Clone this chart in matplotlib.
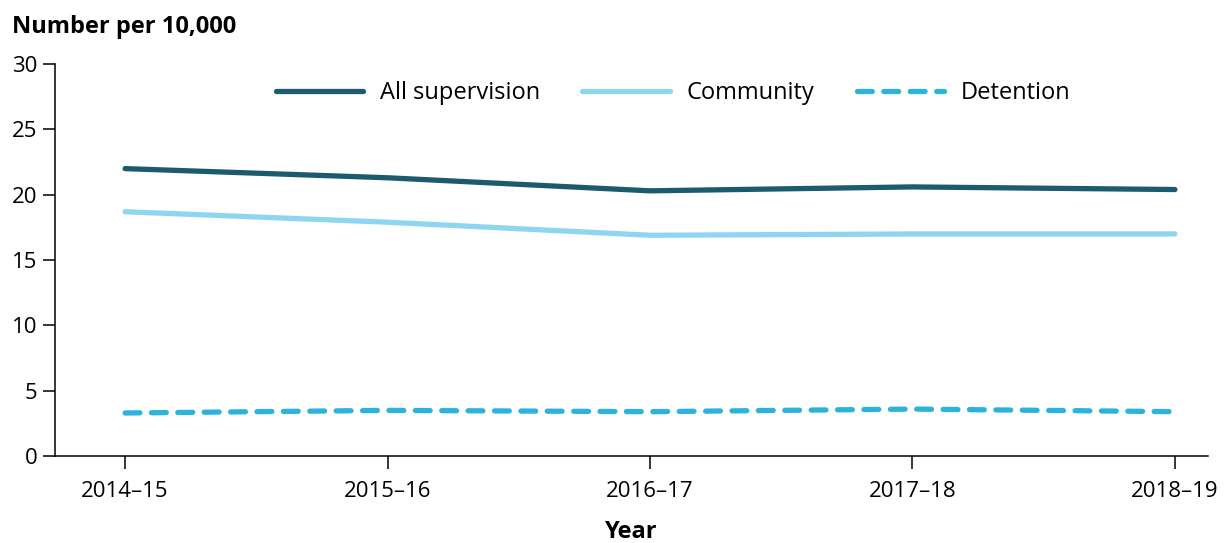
import matplotlib
matplotlib.use('Agg')
import matplotlib.pyplot as plt

years = ['2014–15', '2015–16', '2016–17', '2017–18', '2018–19']
all_supervision = [22.0, 21.3, 20.3, 20.6, 20.4]
community = [18.7, 17.9, 16.9, 17.0, 17.0]
detention = [3.3, 3.5, 3.4, 3.6, 3.4]

plt.rcParams['font.family'] = ['Open Sans', 'DejaVu Sans']
plt.rcParams['font.size'] = 16

fig = plt.figure(figsize=(12.28, 5.43), dpi=100)
ax = fig.add_axes([0.0448, 0.160, 0.9389, 0.722])

x = list(range(len(years)))
lw = 3.8
ax.plot(x, all_supervision, color='#1c5a6e', linewidth=lw, solid_capstyle='round',
        label='All supervision')
ax.plot(x, community, color='#8dd6f1', linewidth=lw, solid_capstyle='round',
        label='Community')
ax.plot(x, detention, color='#2bb3de', linewidth=lw, dashes=(2.8, 2.2),
        dash_capstyle='round', label='Detention')

ax.set_xlim(-0.267, 4.126)
ax.set_ylim(0, 30)
ax.set_yticks([0, 5, 10, 15, 20, 25, 30])
ax.set_xticks(x)
ax.set_xticklabels(years)

for s in ['top', 'right']:
    ax.spines[s].set_visible(False)
for s in ['left', 'bottom']:
    ax.spines[s].set_linewidth(1.1)
ax.tick_params(axis='both', length=9, width=1.1, colors='black', labelsize=16)
ax.tick_params(axis='x', pad=9)

ax.set_xlabel('Year', fontweight='bold', fontsize=17, labelpad=13)
fig.text(12 / 1228, 1 - 27 / 543, 'Number per 10,000', fontweight='bold',
         fontsize=17, va='center', ha='left')

ax.legend(loc='upper center', bbox_to_anchor=(0.536, 1.01), ncol=3, frameon=False,
          handlelength=3.7, columnspacing=1.8, handletextpad=0.7, fontsize=17)

fig.savefig('out.png', dpi=100)
